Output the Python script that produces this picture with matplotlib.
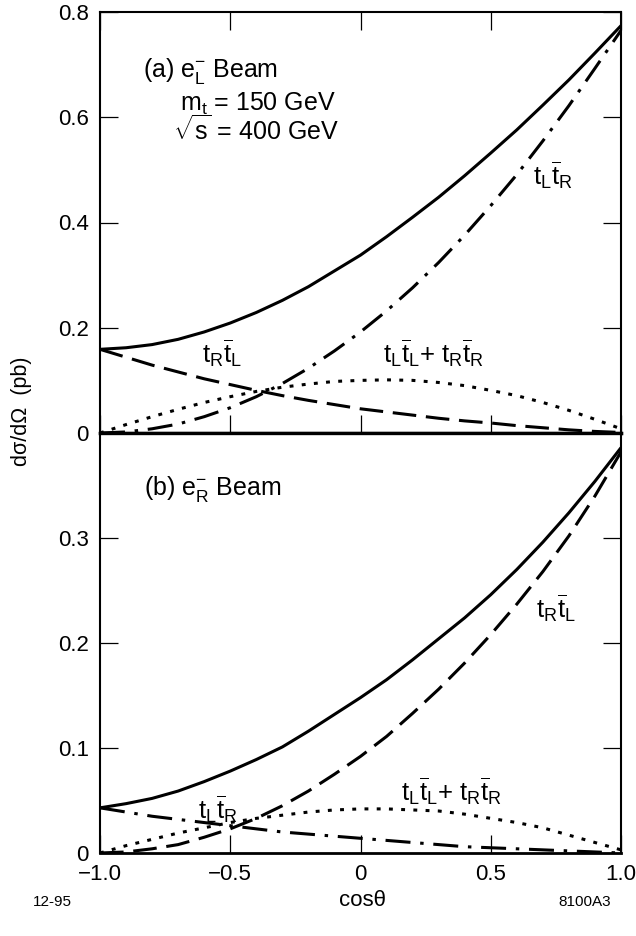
import matplotlib
matplotlib.use("Agg")
import matplotlib.pyplot as plt

plt.rcParams['font.family'] = ['Liberation Sans', 'DejaVu Sans']
plt.rcParams['mathtext.fontset'] = 'custom'
plt.rcParams['mathtext.rm'] = 'Liberation Sans'
plt.rcParams['mathtext.it'] = 'Liberation Sans'
plt.rcParams['mathtext.sf'] = 'Liberation Sans'
plt.rcParams['mathtext.bf'] = 'Liberation Sans:bold'
plt.rcParams['lines.scale_dashes'] = False

# ---- data ----
cos_theta = [-1.0, -0.9, -0.8, -0.7, -0.6, -0.5, -0.4, -0.3, -0.2, -0.1, 0.0,
             0.1, 0.2, 0.3, 0.4, 0.5, 0.6, 0.7, 0.8, 0.9, 1.0]

# (a) e_L beam
a_total = [0.159, 0.162, 0.168, 0.178, 0.192, 0.209, 0.229, 0.252, 0.278, 0.308, 0.338,
           0.373, 0.410, 0.448, 0.489, 0.532, 0.576, 0.623, 0.671, 0.722, 0.774]
a_tLtRbar = [0.0, 0.002, 0.008, 0.017, 0.031, 0.048, 0.069, 0.094, 0.123, 0.156, 0.192,
             0.232, 0.276, 0.324, 0.376, 0.432, 0.491, 0.555, 0.622, 0.693, 0.765]
a_tRtLbar = [0.159, 0.144, 0.129, 0.116, 0.103, 0.092, 0.081, 0.071, 0.062, 0.054, 0.046,
             0.040, 0.034, 0.028, 0.023, 0.019, 0.014, 0.010, 0.006, 0.003, 0.001]
a_same = [0.0, 0.016, 0.031, 0.045, 0.058, 0.069, 0.079, 0.087, 0.093, 0.098, 0.100,
          0.101, 0.100, 0.096, 0.090, 0.081, 0.071, 0.058, 0.043, 0.026, 0.008]

# (b) e_R beam
b_total = [0.043, 0.047, 0.052, 0.059, 0.068, 0.078, 0.089, 0.101, 0.116, 0.132, 0.148,
           0.165, 0.184, 0.204, 0.224, 0.246, 0.270, 0.296, 0.324, 0.354, 0.386]
b_tRtLbar = [0.0, 0.001, 0.004, 0.008, 0.015, 0.023, 0.033, 0.045, 0.059, 0.075, 0.092,
             0.111, 0.133, 0.156, 0.181, 0.208, 0.237, 0.268, 0.302, 0.340, 0.382]
b_tLtRbar = [0.043, 0.039, 0.035, 0.032, 0.029, 0.026, 0.023, 0.020, 0.018, 0.016, 0.014,
             0.012, 0.010, 0.008, 0.006, 0.005, 0.004, 0.003, 0.002, 0.001, 0.0]
b_same = [0.0, 0.007, 0.013, 0.019, 0.024, 0.029, 0.033, 0.036, 0.039, 0.041, 0.042,
          0.042, 0.041, 0.040, 0.037, 0.033, 0.029, 0.024, 0.017, 0.010, 0.003]

x_ticks = [-1.0, -0.5, 0.0, 0.5, 1.0]
x_ticklabels = ['\u22121.0', '\u22120.5', '0', '0.5', '1.0']
a_yticks = [0.0, 0.2, 0.4, 0.6, 0.8]
a_yticklabels = ['0', '0.2', '0.4', '0.6', '0.8']
b_yticks = [0.0, 0.1, 0.2, 0.3]
b_yticklabels = ['0', '0.1', '0.2', '0.3']

# ---- figure ----
fig = plt.figure(figsize=(6.36, 9.36), dpi=100)
L, R = 100 / 636, 621 / 636
ax_a = fig.add_axes([L, 1 - 433 / 936, R - L, (433 - 12) / 936])
ax_b = fig.add_axes([L, 1 - 853 / 936, R - L, (853 - 433) / 936])

lw = 2.2
sty_dash = (0, (17, 7))
sty_dashdot = (0, (18, 7, 2.5, 7))
sty_dot = (0, (2.8, 6))

ax_a.plot(cos_theta, a_total, color='black', lw=lw, solid_capstyle='butt')
ax_a.plot(cos_theta, a_tLtRbar, color='black', lw=lw, linestyle=sty_dashdot, dash_capstyle='butt')
ax_a.plot(cos_theta, a_tRtLbar, color='black', lw=lw, linestyle=sty_dash, dash_capstyle='butt')
ax_a.plot(cos_theta, a_same, color='black', lw=lw, linestyle=sty_dot, dash_capstyle='butt')

ax_b.plot(cos_theta, b_total, color='black', lw=lw, solid_capstyle='butt')
ax_b.plot(cos_theta, b_tRtLbar, color='black', lw=lw, linestyle=sty_dash, dash_capstyle='butt')
ax_b.plot(cos_theta, b_tLtRbar, color='black', lw=lw, linestyle=sty_dashdot, dash_capstyle='butt')
ax_b.plot(cos_theta, b_same, color='black', lw=lw, linestyle=sty_dot, dash_capstyle='butt')

for ax in (ax_a, ax_b):
    ax.set_xlim(-1.0, 1.0)
    ax.set_xticks(x_ticks)
    for s in ax.spines.values():
        s.set_linewidth(1.5)
    ax.tick_params(direction='in', length=13, width=0.9, labelsize=16, pad=8,
                   top=True, right=True)

ax_a.spines['bottom'].set_linewidth(2.4)
ax_b.spines['top'].set_linewidth(2.4)
ax_b.spines['bottom'].set_linewidth(2.0)

ax_a.set_ylim(0, 0.8)
ax_a.set_yticks(a_yticks)
ax_a.set_yticklabels(a_yticklabels)
ax_a.tick_params(axis='x', labelbottom=False)

ax_b.set_ylim(0, 0.4)
ax_b.set_yticks(b_yticks)
ax_b.set_yticklabels(b_yticklabels)
ax_b.set_xticklabels(x_ticklabels)
ax_b.tick_params(axis='x', top=False)

fs = 18
fl = 18.5
tLtR = r'$\mathregular{t_L\overline{t}_R}$'
tRtL = r'$\mathregular{t_R\overline{t}_L}$'
same = r'$\mathregular{t_L\overline{t}_L}$+ $\mathregular{t_R\overline{t}_R}$'

# panel (a) texts
ax_a.text(-0.835, 0.677, r'(a) $\mathregular{e_L^{-}}$ Beam', fontsize=fs, va='baseline')
ax_a.text(-0.693, 0.613, r'$\mathregular{m_t}$ = 150 GeV', fontsize=fs, va='baseline')
ax_a.text(-0.72, 0.557, r'$\mathregular{\sqrt{s}}$ = 400 GeV', fontsize=fs, va='baseline')
ax_a.text(0.662, 0.472, tLtR, fontsize=fl, va='baseline')
ax_a.text(-0.608, 0.133, tRtL, fontsize=fl, va='baseline')
ax_a.text(0.086, 0.133, same, fontsize=fl, va='baseline')

# panel (b) texts
ax_b.text(-0.831, 0.341, r'(b) $\mathregular{e_R^{-}}$ Beam', fontsize=fs, va='baseline')
ax_b.text(0.675, 0.224, tRtL, fontsize=fl, va='baseline')
ax_b.text(-0.624, 0.033, tLtR, fontsize=fl, va='baseline')
ax_b.text(0.155, 0.0495, same, fontsize=fl, va='baseline')

fig.text(22 / 636, 1 - 411 / 936, 'd\u03c3/d\u03a9  (pb)', rotation=90, fontsize=15.5,
         ha='center', va='center')
fig.text(362 / 636, 1 - 900 / 936, 'cos\u03b8', fontsize=16, ha='center', va='center')
fig.text(52 / 636, 1 - 902 / 936, '12-95', fontsize=11, ha='center', va='center')
fig.text(585 / 636, 1 - 902 / 936, '8100A3', fontsize=11, ha='center', va='center')

fig.savefig('out.png', dpi=100)
